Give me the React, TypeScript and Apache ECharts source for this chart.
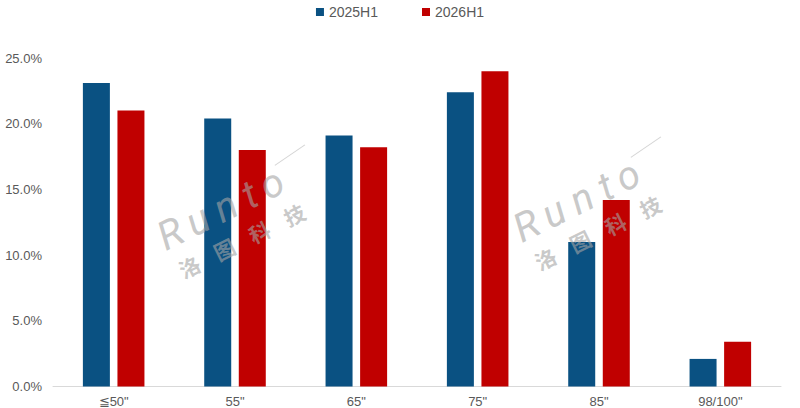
import React, { useEffect, useRef } from "react";
import * as echarts from "echarts";

const categories = ["≦50\"", "55\"", "65\"", "75\"", "85\"", "98/100\""];
const series2025 = [23.1, 20.4, 19.1, 22.4, 11.0, 2.1];
const series2026 = [21.0, 18.0, 18.2, 24.0, 14.2, 3.4];
const seriesNames = ["2025H1", "2026H1"];
const yTicks = [0, 5, 10, 15, 20, 25];
const wmLetters = ["R", "u", "n", "t", "o"];
const wmChars = ["洛", "图", "科", "技"];

const FONT = "'Liberation Sans Narrow', 'Arial Narrow', 'Liberation Sans', Arial, sans-serif";

export default function App() {
  const ref = useRef<HTMLDivElement>(null);
  useEffect(() => {
    if (!ref.current) return;
    const chart = echarts.init(ref.current, undefined, { renderer: "svg" });
    const letterX = [0, 32, 63, 94, 114];
    const charX = [4, 43, 82, 121];
    const watermark = (x: number, y: number) => ({
      type: "group",
      x,
      y,
      rotation: 0.46,
      silent: true,
      z: 100,
      children: [
        ...wmLetters.map((l, i) => ({
          type: "text",
          x: letterX[i],
          y: 8,
          z: 100,
          style: {
            text: l,
            font: "italic 400 40px Roboto, sans-serif",
            fill: "rgba(165,165,165,0.6)",
            verticalAlign: "bottom",
          },
        })),
        {
          type: "line",
          z: 100,
          shape: { x1: 136, y1: -27, x2: 172, y2: -32 },
          style: { stroke: "rgba(185,185,185,0.6)", lineWidth: 1 },
        },
        ...wmChars.map((c, i) => ({
          type: "text",
          x: charX[i],
          y: 36,
          z: 100,
          style: {
            text: c,
            font: "bold 21px 'Noto Sans CJK SC', sans-serif",
            fill: "rgba(165,165,165,0.6)",
            verticalAlign: "bottom",
          },
        })),
      ],
    });
    chart.setOption({
      animation: false,
      backgroundColor: "#ffffff",
      textStyle: { fontFamily: FONT },
      legend: {
        top: 0,
        left: "center",
        itemWidth: 8,
        itemHeight: 8,
        itemGap: 44,
        icon: "rect",
        textStyle: { color: "#595959", fontSize: 14, fontFamily: FONT },
        data: seriesNames,
      },
      grid: { left: 53, right: 19, top: 58, bottom: 21.5, containLabel: false },
      xAxis: {
        type: "category",
        data: categories,
        axisLine: { lineStyle: { color: "#d9d9d9", width: 1 } },
        axisTick: { show: false },
        axisLabel: { color: "#595959", fontSize: 13, margin: 8, fontFamily: FONT },
      },
      yAxis: {
        type: "value",
        min: yTicks[0],
        max: yTicks[yTicks.length - 1],
        interval: 5,
        splitLine: { show: false },
        axisLine: { show: false },
        axisTick: { show: false },
        axisLabel: {
          color: "#595959",
          fontSize: 13,
          margin: 11,
          fontFamily: FONT,
          formatter: (v: number) => v.toFixed(1) + "%",
        },
      },
      series: [
        {
          name: seriesNames[0],
          type: "bar",
          data: series2025,
          barWidth: 27,
          barGap: "28%",
          itemStyle: { color: "#0A5182" },
          z: 2,
        },
        {
          name: seriesNames[1],
          type: "bar",
          data: series2026,
          barWidth: 27,
          barGap: "28%",
          itemStyle: { color: "#C00000" },
          z: 2,
        },
      ],
      graphic: [watermark(165, 250), watermark(521, 242)],
    });
    return () => chart.dispose();
  }, []);
  return (
    <div
      ref={ref}
      style={{ position: "fixed", left: 0, top: 0, width: 800, height: 408 }}
    />
  );
}
